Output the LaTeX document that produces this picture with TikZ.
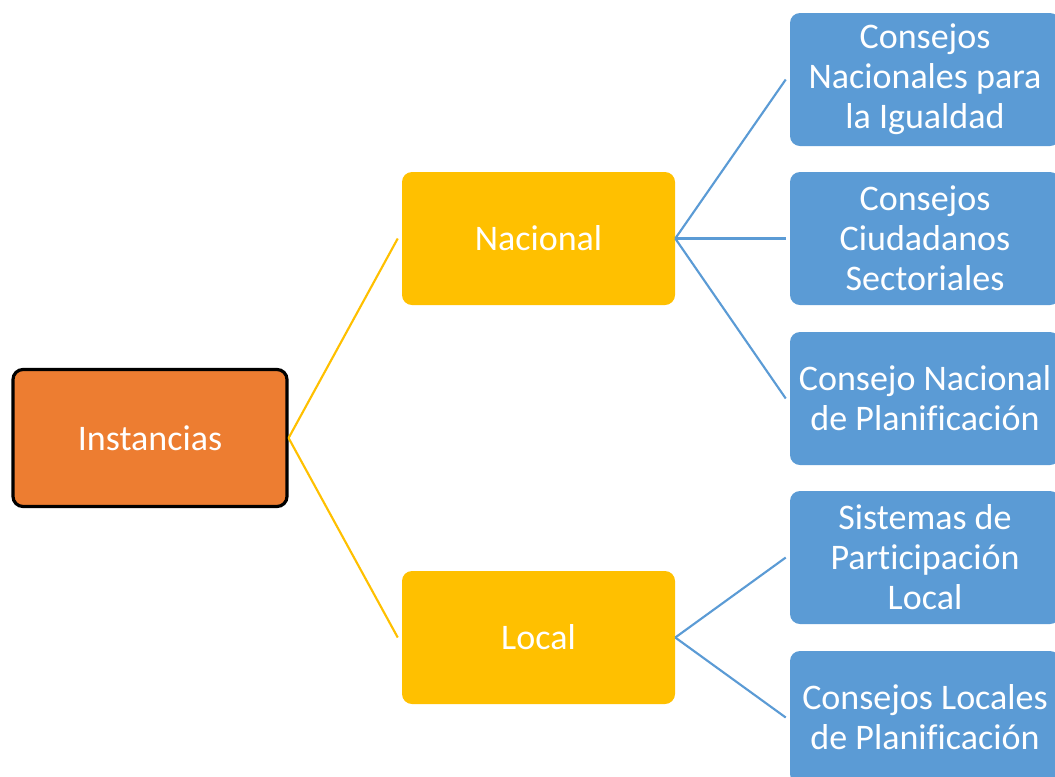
\documentclass[tikz,border=0pt]{standalone}
\usepackage{fontspec}
\setmainfont{Carlito}[Ligatures=NoCommon]
\definecolor{instorange}{HTML}{ED7D31}
\definecolor{nivelyellow}{HTML}{FFC000}
\definecolor{consejoblue}{HTML}{5B9BD5}
\tikzset{
	caja/.style={rounded corners=7.5pt,align=center,text=white,inner sep=0pt,
		font=\fontsize{27}{30}\selectfont},
	raiz/.style={caja,fill=instorange,draw=black,line width=2.4pt,
		minimum width=205.5pt,minimum height=102.75pt},
	nivel/.style={caja,fill=nivelyellow,minimum width=204.75pt,minimum height=99.75pt},
	consejo/.style={caja,fill=consejoblue,minimum width=202.5pt,minimum height=99.75pt},
	ramaY/.style={draw=nivelyellow,line width=1.6pt},
	ramaB/.style={draw=consejoblue,line width=1.6pt}
}

\begin{document}
\begin{tikzpicture}[x=0.75pt,y=-0.75pt]
		\useasboundingbox (0,0) rectangle (1055,776);
		
		\node[raiz] (inst) at (150,438) {Instancias};
		
		\node[nivel] (nac) at (538.5,238.5) {Nacional};
		\node[nivel] (loc) at (538.5,637.5) {Local};
		
		\node[consejo] (igual) at (925,79.5) {Consejos\\Nacionales para\\la Igualdad};
		\node[consejo] (ciud) at (925,238.5) {Consejos\\Ciudadanos\\Sectoriales};
		\node[consejo] (plan) at (925,398.5) {Consejo Nacional\\de Planificación};
		\node[consejo] (sist) at (925,557.5) {Sistemas de\\Participación\\Local};
		\node[consejo] (cloc) at (925,717.5) {Consejos Locales\\de Planificación};
		
		\draw[ramaY] (inst.east) -- ([xshift=-3pt]nac.west);
		\draw[ramaY] (inst.east) -- ([xshift=-3pt]loc.west);
		
		\draw[ramaB] (nac.east) -- ([xshift=-3pt]igual.west);
		\draw[ramaB] (nac.east) -- ([xshift=-3pt]ciud.west);
		\draw[ramaB] (nac.east) -- ([xshift=-3pt]plan.west);
		
		\draw[ramaB] (loc.east) -- ([xshift=-3pt]sist.west);
		\draw[ramaB] (loc.east) -- ([xshift=-3pt]cloc.west);
		\end{tikzpicture}
\end{document}
